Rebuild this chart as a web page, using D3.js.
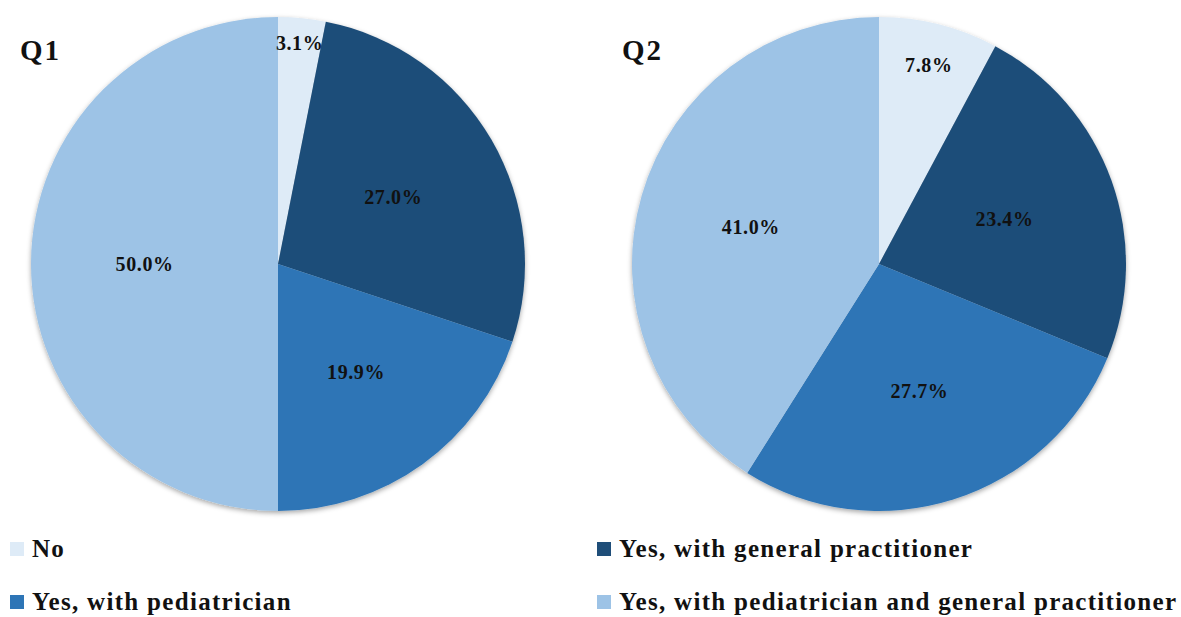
<!DOCTYPE html>
<html>
<head>
<meta charset="utf-8">
<script src="https://cdn.jsdelivr.net/npm/d3@7"></script>
<style>
  body { margin: 0; background: #ffffff; }
  svg { display: block; }
</style>
</head>
<body>
<svg id="chart"></svg>
<script>
// answer categories, clockwise from 12 o'clock
const categories = ['No', 'Yes, with general practitioner', 'Yes, with pediatrician', 'Yes, with pediatrician and general practitioner'];
const colors = ['#deebf7', '#1f4e79', '#2e75b6', '#9dc3e6'];
const q1Values = [3.1, 27.0, 19.9, 50.0];
const q2Values = [7.8, 23.4, 27.7, 41.0];
const titles = ['Q1', 'Q2'];

const width = 1181, height = 617;
const svg = d3.select('#chart').attr('width', width).attr('height', height);
const serif = '"Liberation Serif", "DejaVu Serif", serif';

const defs = svg.append('defs');
defs.append('filter').attr('id', 'shadow')
  .attr('x', '-10%').attr('y', '-10%').attr('width', '120%').attr('height', '125%')
  .append('feDropShadow')
  .attr('dx', 0).attr('dy', 2).attr('stdDeviation', 2.5)
  .attr('flood-color', '#000').attr('flood-opacity', 0.35);

const color = d3.scaleOrdinal().domain(categories).range(colors);
const radius = 247;
const pie = d3.pie().sort(null).value(d => d.value);
const arc = d3.arc().innerRadius(0).outerRadius(radius);

const charts = [
  { title: titles[0], values: q1Values, cx: 278, cy: 264, tx: 20 },
  { title: titles[1], values: q2Values, cx: 879, cy: 264, tx: 622 }
];

charts.forEach(c => {
  const data = categories.map((k, i) => ({ key: k, value: c.values[i] }));
  const arcs = pie(data);
  const g = svg.append('g').attr('transform', `translate(${c.cx},${c.cy})`);

  g.append('g').attr('filter', 'url(#shadow)')
    .selectAll('path')
    .data(arcs)
    .enter().append('path')
    .attr('d', arc)
    .attr('fill', d => color(d.data.key));

  // small slices get labels near the rim, larger ones closer to the middle
  g.selectAll('text.lbl')
    .data(arcs)
    .enter().append('text')
    .attr('class', 'lbl')
    .attr('transform', d => {
      const frac = (d.endAngle - d.startAngle) / (2 * Math.PI);
      const r = frac < 0.05 ? radius * 0.9 : frac < 0.1 ? radius * 0.83 : radius * 0.54;
      const a = (d.startAngle + d.endAngle) / 2;
      return `translate(${Math.sin(a) * r},${-Math.cos(a) * r})`;
    })
    .attr('text-anchor', 'middle')
    .attr('dy', '0.35em')
    .style('font-family', serif)
    .style('font-weight', 'bold')
    .style('font-size', '20px')
    .style('letter-spacing', '0.6px')
    .style('fill', '#111')
    .text(d => d.data.value.toFixed(1) + '%');

  svg.append('text')
    .attr('x', c.tx).attr('y', 60)
    .style('font-family', serif)
    .style('font-weight', 'bold')
    .style('font-size', '29px')
    .style('letter-spacing', '2px')
    .style('fill', '#111')
    .text(c.title);
});

// legend: two columns, two rows
const legend = svg.append('g').selectAll('g')
  .data(categories)
  .enter().append('g')
  .attr('transform', (d, i) => `translate(${i % 2 === 0 ? 10 : 597},${i < 2 ? 542 : 595})`);

legend.append('rect')
  .attr('width', 14).attr('height', 14)
  .attr('fill', d => color(d));

legend.append('text')
  .attr('x', 22).attr('y', 15)
  .style('font-family', serif)
  .style('font-weight', 'bold')
  .style('font-size', '25px')
  .style('letter-spacing', '1.3px')
  .style('fill', '#111')
  .text(d => d);
</script>
</body>
</html>
